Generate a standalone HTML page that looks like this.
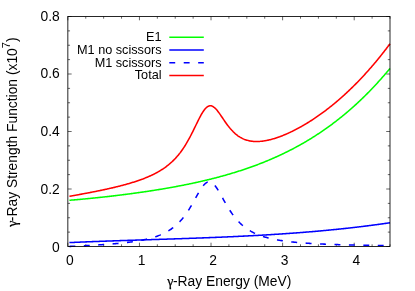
<!DOCTYPE html>
<html><head><meta charset="utf-8"><style>html,body{margin:0;padding:0;background:#fff}svg{display:block;will-change:transform}text{font-family:"Liberation Sans",sans-serif;font-size:13.83px;fill:#000}.l{font-size:12.7px}.g{font-family:"Liberation Serif",serif}</style></head><body>
<svg width="415" height="291" viewBox="0 0 415 291">
<rect width="415" height="291" fill="#fff"/>
<path d="M67.85 246.50v-3.80 M67.85 16.50v3.80 M85.75 246.50v-2.20 M85.75 16.50v2.20 M103.64 246.50v-2.20 M103.64 16.50v2.20 M121.54 246.50v-2.20 M121.54 16.50v2.20 M139.44 246.50v-3.80 M139.44 16.50v3.80 M157.34 246.50v-2.20 M157.34 16.50v2.20 M175.23 246.50v-2.20 M175.23 16.50v2.20 M193.13 246.50v-2.20 M193.13 16.50v2.20 M211.03 246.50v-3.80 M211.03 16.50v3.80 M228.92 246.50v-2.20 M228.92 16.50v2.20 M246.82 246.50v-2.20 M246.82 16.50v2.20 M264.72 246.50v-2.20 M264.72 16.50v2.20 M282.62 246.50v-3.80 M282.62 16.50v3.80 M300.51 246.50v-2.20 M300.51 16.50v2.20 M318.41 246.50v-2.20 M318.41 16.50v2.20 M336.31 246.50v-2.20 M336.31 16.50v2.20 M354.21 246.50v-3.80 M354.21 16.50v3.80 M372.10 246.50v-2.20 M372.10 16.50v2.20 M390.00 246.50v-2.20 M390.00 16.50v2.20 M67.85 246.50h3.80 M390.00 246.50h-3.80 M67.85 232.12h2.20 M390.00 232.12h-2.20 M67.85 217.75h2.20 M390.00 217.75h-2.20 M67.85 203.38h2.20 M390.00 203.38h-2.20 M67.85 189.00h3.80 M390.00 189.00h-3.80 M67.85 174.62h2.20 M390.00 174.62h-2.20 M67.85 160.25h2.20 M390.00 160.25h-2.20 M67.85 145.88h2.20 M390.00 145.88h-2.20 M67.85 131.50h3.80 M390.00 131.50h-3.80 M67.85 117.12h2.20 M390.00 117.12h-2.20 M67.85 102.75h2.20 M390.00 102.75h-2.20 M67.85 88.38h2.20 M390.00 88.38h-2.20 M67.85 74.00h3.80 M390.00 74.00h-3.80 M67.85 59.62h2.20 M390.00 59.62h-2.20 M67.85 45.25h2.20 M390.00 45.25h-2.20 M67.85 30.88h2.20 M390.00 30.88h-2.20 M67.85 16.50h3.80 M390.00 16.50h-3.80" stroke="#000" stroke-width="0.6" fill="none"/>
<g fill="none" stroke-width="1.55" stroke-linejoin="round">
<path d="M69.42 200.28 L70.14 200.22 L70.85 200.16 L71.56 200.10 L72.27 200.04 L72.99 199.98 L73.70 199.92 L74.41 199.86 L75.12 199.80 L75.84 199.74 L76.55 199.68 L77.26 199.61 L77.97 199.55 L78.69 199.49 L79.40 199.42 L80.11 199.36 L80.82 199.30 L81.54 199.23 L82.25 199.16 L82.96 199.10 L83.67 199.03 L84.39 198.97 L85.10 198.90 L85.81 198.83 L86.52 198.76 L87.23 198.69 L87.95 198.63 L88.66 198.56 L89.37 198.49 L90.08 198.42 L90.80 198.35 L91.51 198.27 L92.22 198.20 L92.93 198.13 L93.65 198.06 L94.36 197.99 L95.07 197.91 L95.78 197.84 L96.50 197.77 L97.21 197.69 L97.92 197.62 L98.63 197.54 L99.35 197.47 L100.06 197.39 L100.77 197.31 L101.48 197.24 L102.19 197.16 L102.91 197.08 L103.62 197.00 L104.33 196.93 L105.04 196.85 L105.76 196.77 L106.47 196.69 L107.18 196.61 L107.89 196.53 L108.61 196.45 L109.32 196.36 L110.03 196.28 L110.74 196.20 L111.46 196.12 L112.17 196.03 L112.88 195.95 L113.59 195.87 L114.31 195.78 L115.02 195.70 L115.73 195.61 L116.44 195.53 L117.16 195.44 L117.87 195.35 L118.58 195.27 L119.29 195.18 L120.00 195.09 L120.72 195.00 L121.43 194.91 L122.14 194.82 L122.85 194.73 L123.57 194.64 L124.28 194.55 L124.99 194.46 L125.70 194.37 L126.42 194.28 L127.13 194.19 L127.84 194.09 L128.55 194.00 L129.27 193.91 L129.98 193.81 L130.69 193.72 L131.40 193.62 L132.12 193.53 L132.83 193.43 L133.54 193.33 L134.25 193.24 L134.96 193.14 L135.68 193.04 L136.39 192.94 L137.10 192.84 L137.81 192.74 L138.53 192.64 L139.24 192.54 L139.95 192.44 L140.66 192.34 L141.38 192.24 L142.09 192.13 L142.80 192.03 L143.51 191.93 L144.23 191.82 L144.94 191.72 L145.65 191.61 L146.36 191.51 L147.08 191.40 L147.79 191.29 L148.50 191.18 L149.21 191.08 L149.92 190.97 L150.64 190.86 L151.35 190.75 L152.06 190.64 L152.77 190.53 L153.49 190.42 L154.20 190.30 L154.91 190.19 L155.62 190.08 L156.34 189.96 L157.05 189.85 L157.76 189.73 L158.47 189.62 L159.19 189.50 L159.90 189.38 L160.61 189.27 L161.32 189.15 L162.04 189.03 L162.75 188.91 L163.46 188.79 L164.17 188.67 L164.89 188.55 L165.60 188.43 L166.31 188.30 L167.02 188.18 L167.73 188.06 L168.45 187.93 L169.16 187.80 L169.87 187.68 L170.58 187.55 L171.30 187.42 L172.01 187.30 L172.72 187.17 L173.43 187.04 L174.15 186.91 L174.86 186.78 L175.57 186.64 L176.28 186.51 L177.00 186.38 L177.71 186.24 L178.42 186.11 L179.13 185.97 L179.85 185.84 L180.56 185.70 L181.27 185.56 L181.98 185.42 L182.69 185.28 L183.41 185.14 L184.12 185.00 L184.83 184.86 L185.54 184.72 L186.26 184.57 L186.97 184.43 L187.68 184.28 L188.39 184.14 L189.11 183.99 L189.82 183.84 L190.53 183.69 L191.24 183.54 L191.96 183.39 L192.67 183.24 L193.38 183.09 L194.09 182.94 L194.81 182.78 L195.52 182.63 L196.23 182.47 L196.94 182.31 L197.65 182.16 L198.37 182.00 L199.08 181.84 L199.79 181.68 L200.50 181.51 L201.22 181.35 L201.93 181.19 L202.64 181.02 L203.35 180.86 L204.07 180.69 L204.78 180.52 L205.49 180.36 L206.20 180.19 L206.92 180.01 L207.63 179.84 L208.34 179.67 L209.05 179.50 L209.77 179.32 L210.48 179.14 L211.19 178.97 L211.90 178.79 L212.62 178.61 L213.33 178.43 L214.04 178.25 L214.75 178.06 L215.46 177.88 L216.18 177.70 L216.89 177.51 L217.60 177.32 L218.31 177.13 L219.03 176.94 L219.74 176.75 L220.45 176.56 L221.16 176.37 L221.88 176.17 L222.59 175.98 L223.30 175.78 L224.01 175.58 L224.73 175.38 L225.44 175.18 L226.15 174.98 L226.86 174.77 L227.58 174.57 L228.29 174.36 L229.00 174.16 L229.71 173.95 L230.42 173.74 L231.14 173.53 L231.85 173.31 L232.56 173.10 L233.27 172.88 L233.99 172.67 L234.70 172.45 L235.41 172.23 L236.12 172.01 L236.84 171.78 L237.55 171.56 L238.26 171.33 L238.97 171.11 L239.69 170.88 L240.40 170.65 L241.11 170.42 L241.82 170.18 L242.54 169.95 L243.25 169.71 L243.96 169.48 L244.67 169.24 L245.39 169.00 L246.10 168.75 L246.81 168.51 L247.52 168.27 L248.23 168.02 L248.95 167.77 L249.66 167.52 L250.37 167.27 L251.08 167.01 L251.80 166.76 L252.51 166.50 L253.22 166.24 L253.93 165.98 L254.65 165.72 L255.36 165.46 L256.07 165.19 L256.78 164.93 L257.50 164.66 L258.21 164.39 L258.92 164.11 L259.63 163.84 L260.35 163.56 L261.06 163.29 L261.77 163.01 L262.48 162.72 L263.19 162.44 L263.91 162.16 L264.62 161.87 L265.33 161.58 L266.04 161.29 L266.76 161.00 L267.47 160.70 L268.18 160.40 L268.89 160.11 L269.61 159.81 L270.32 159.50 L271.03 159.20 L271.74 158.89 L272.46 158.58 L273.17 158.27 L273.88 157.96 L274.59 157.64 L275.31 157.33 L276.02 157.01 L276.73 156.69 L277.44 156.37 L278.15 156.04 L278.87 155.71 L279.58 155.38 L280.29 155.05 L281.00 154.72 L281.72 154.38 L282.43 154.04 L283.14 153.70 L283.85 153.36 L284.57 153.02 L285.28 152.67 L285.99 152.32 L286.70 151.97 L287.42 151.61 L288.13 151.26 L288.84 150.90 L289.55 150.54 L290.27 150.17 L290.98 149.81 L291.69 149.44 L292.40 149.07 L293.12 148.70 L293.83 148.32 L294.54 147.94 L295.25 147.56 L295.96 147.18 L296.68 146.79 L297.39 146.41 L298.10 146.02 L298.81 145.62 L299.53 145.23 L300.24 144.83 L300.95 144.43 L301.66 144.03 L302.38 143.62 L303.09 143.21 L303.80 142.80 L304.51 142.39 L305.23 141.97 L305.94 141.55 L306.65 141.13 L307.36 140.70 L308.08 140.28 L308.79 139.85 L309.50 139.41 L310.21 138.98 L310.92 138.54 L311.64 138.10 L312.35 137.66 L313.06 137.21 L313.77 136.76 L314.49 136.31 L315.20 135.85 L315.91 135.39 L316.62 134.93 L317.34 134.47 L318.05 134.00 L318.76 133.53 L319.47 133.06 L320.19 132.58 L320.90 132.10 L321.61 131.62 L322.32 131.13 L323.04 130.64 L323.75 130.15 L324.46 129.66 L325.17 129.16 L325.88 128.66 L326.60 128.16 L327.31 127.65 L328.02 127.14 L328.73 126.62 L329.45 126.11 L330.16 125.59 L330.87 125.06 L331.58 124.54 L332.30 124.01 L333.01 123.47 L333.72 122.94 L334.43 122.40 L335.15 121.85 L335.86 121.31 L336.57 120.76 L337.28 120.20 L338.00 119.65 L338.71 119.09 L339.42 118.52 L340.13 117.96 L340.85 117.38 L341.56 116.81 L342.27 116.23 L342.98 115.65 L343.69 115.07 L344.41 114.48 L345.12 113.88 L345.83 113.29 L346.54 112.69 L347.26 112.08 L347.97 111.48 L348.68 110.87 L349.39 110.25 L350.11 109.63 L350.82 109.01 L351.53 108.39 L352.24 107.76 L352.96 107.12 L353.67 106.49 L354.38 105.84 L355.09 105.20 L355.81 104.55 L356.52 103.90 L357.23 103.24 L357.94 102.58 L358.65 101.91 L359.37 101.25 L360.08 100.57 L360.79 99.90 L361.50 99.22 L362.22 98.53 L362.93 97.84 L363.64 97.15 L364.35 96.45 L365.07 95.75 L365.78 95.04 L366.49 94.33 L367.20 93.62 L367.92 92.90 L368.63 92.18 L369.34 91.45 L370.05 90.72 L370.77 89.98 L371.48 89.24 L372.19 88.50 L372.90 87.75 L373.62 87.00 L374.33 86.24 L375.04 85.48 L375.75 84.71 L376.46 83.94 L377.18 83.17 L377.89 82.39 L378.60 81.60 L379.31 80.81 L380.03 80.02 L380.74 79.22 L381.45 78.42 L382.16 77.61 L382.88 76.80 L383.59 75.98 L384.30 75.16 L385.01 74.33 L385.73 73.50 L386.44 72.67 L387.15 71.82 L387.86 70.98 L388.58 70.13 L389.29 69.27 L390.00 68.41" stroke="#00ff00"/>
<path d="M69.42 242.58 L70.14 242.55 L70.85 242.52 L71.56 242.49 L72.27 242.46 L72.99 242.43 L73.70 242.40 L74.41 242.36 L75.12 242.33 L75.84 242.30 L76.55 242.27 L77.26 242.24 L77.97 242.21 L78.69 242.18 L79.40 242.15 L80.11 242.12 L80.82 242.09 L81.54 242.06 L82.25 242.03 L82.96 242.01 L83.67 241.98 L84.39 241.95 L85.10 241.92 L85.81 241.89 L86.52 241.86 L87.23 241.83 L87.95 241.81 L88.66 241.78 L89.37 241.75 L90.08 241.72 L90.80 241.69 L91.51 241.67 L92.22 241.64 L92.93 241.61 L93.65 241.58 L94.36 241.56 L95.07 241.53 L95.78 241.50 L96.50 241.48 L97.21 241.45 L97.92 241.42 L98.63 241.40 L99.35 241.37 L100.06 241.34 L100.77 241.32 L101.48 241.29 L102.19 241.27 L102.91 241.24 L103.62 241.21 L104.33 241.19 L105.04 241.16 L105.76 241.14 L106.47 241.11 L107.18 241.09 L107.89 241.06 L108.61 241.04 L109.32 241.01 L110.03 240.99 L110.74 240.96 L111.46 240.94 L112.17 240.91 L112.88 240.89 L113.59 240.86 L114.31 240.84 L115.02 240.81 L115.73 240.79 L116.44 240.77 L117.16 240.74 L117.87 240.72 L118.58 240.69 L119.29 240.67 L120.00 240.64 L120.72 240.62 L121.43 240.60 L122.14 240.57 L122.85 240.55 L123.57 240.53 L124.28 240.50 L124.99 240.48 L125.70 240.45 L126.42 240.43 L127.13 240.41 L127.84 240.38 L128.55 240.36 L129.27 240.34 L129.98 240.31 L130.69 240.29 L131.40 240.27 L132.12 240.24 L132.83 240.22 L133.54 240.20 L134.25 240.17 L134.96 240.15 L135.68 240.13 L136.39 240.11 L137.10 240.08 L137.81 240.06 L138.53 240.04 L139.24 240.01 L139.95 239.99 L140.66 239.97 L141.38 239.95 L142.09 239.92 L142.80 239.90 L143.51 239.88 L144.23 239.85 L144.94 239.83 L145.65 239.81 L146.36 239.79 L147.08 239.76 L147.79 239.74 L148.50 239.72 L149.21 239.69 L149.92 239.67 L150.64 239.65 L151.35 239.63 L152.06 239.60 L152.77 239.58 L153.49 239.56 L154.20 239.54 L154.91 239.51 L155.62 239.49 L156.34 239.47 L157.05 239.44 L157.76 239.42 L158.47 239.40 L159.19 239.38 L159.90 239.35 L160.61 239.33 L161.32 239.31 L162.04 239.28 L162.75 239.26 L163.46 239.24 L164.17 239.21 L164.89 239.19 L165.60 239.17 L166.31 239.15 L167.02 239.12 L167.73 239.10 L168.45 239.08 L169.16 239.05 L169.87 239.03 L170.58 239.01 L171.30 238.98 L172.01 238.96 L172.72 238.94 L173.43 238.91 L174.15 238.89 L174.86 238.86 L175.57 238.84 L176.28 238.82 L177.00 238.79 L177.71 238.77 L178.42 238.75 L179.13 238.72 L179.85 238.70 L180.56 238.67 L181.27 238.65 L181.98 238.63 L182.69 238.60 L183.41 238.58 L184.12 238.55 L184.83 238.53 L185.54 238.50 L186.26 238.48 L186.97 238.45 L187.68 238.43 L188.39 238.40 L189.11 238.38 L189.82 238.35 L190.53 238.33 L191.24 238.30 L191.96 238.28 L192.67 238.25 L193.38 238.23 L194.09 238.20 L194.81 238.18 L195.52 238.15 L196.23 238.12 L196.94 238.10 L197.65 238.07 L198.37 238.05 L199.08 238.02 L199.79 237.99 L200.50 237.97 L201.22 237.94 L201.93 237.91 L202.64 237.89 L203.35 237.86 L204.07 237.83 L204.78 237.81 L205.49 237.78 L206.20 237.75 L206.92 237.73 L207.63 237.70 L208.34 237.67 L209.05 237.64 L209.77 237.61 L210.48 237.59 L211.19 237.56 L211.90 237.53 L212.62 237.50 L213.33 237.47 L214.04 237.44 L214.75 237.42 L215.46 237.39 L216.18 237.36 L216.89 237.33 L217.60 237.30 L218.31 237.27 L219.03 237.24 L219.74 237.21 L220.45 237.18 L221.16 237.15 L221.88 237.12 L222.59 237.09 L223.30 237.06 L224.01 237.03 L224.73 237.00 L225.44 236.97 L226.15 236.94 L226.86 236.91 L227.58 236.87 L228.29 236.84 L229.00 236.81 L229.71 236.78 L230.42 236.75 L231.14 236.72 L231.85 236.68 L232.56 236.65 L233.27 236.62 L233.99 236.59 L234.70 236.55 L235.41 236.52 L236.12 236.49 L236.84 236.45 L237.55 236.42 L238.26 236.38 L238.97 236.35 L239.69 236.32 L240.40 236.28 L241.11 236.25 L241.82 236.21 L242.54 236.18 L243.25 236.14 L243.96 236.11 L244.67 236.07 L245.39 236.04 L246.10 236.00 L246.81 235.96 L247.52 235.93 L248.23 235.89 L248.95 235.85 L249.66 235.82 L250.37 235.78 L251.08 235.74 L251.80 235.71 L252.51 235.67 L253.22 235.63 L253.93 235.59 L254.65 235.55 L255.36 235.51 L256.07 235.48 L256.78 235.44 L257.50 235.40 L258.21 235.36 L258.92 235.32 L259.63 235.28 L260.35 235.24 L261.06 235.20 L261.77 235.16 L262.48 235.12 L263.19 235.08 L263.91 235.03 L264.62 234.99 L265.33 234.95 L266.04 234.91 L266.76 234.87 L267.47 234.82 L268.18 234.78 L268.89 234.74 L269.61 234.70 L270.32 234.65 L271.03 234.61 L271.74 234.57 L272.46 234.52 L273.17 234.48 L273.88 234.43 L274.59 234.39 L275.31 234.34 L276.02 234.30 L276.73 234.25 L277.44 234.21 L278.15 234.16 L278.87 234.11 L279.58 234.07 L280.29 234.02 L281.00 233.97 L281.72 233.92 L282.43 233.88 L283.14 233.83 L283.85 233.78 L284.57 233.73 L285.28 233.68 L285.99 233.63 L286.70 233.58 L287.42 233.53 L288.13 233.48 L288.84 233.43 L289.55 233.38 L290.27 233.33 L290.98 233.28 L291.69 233.23 L292.40 233.18 L293.12 233.13 L293.83 233.08 L294.54 233.02 L295.25 232.97 L295.96 232.92 L296.68 232.86 L297.39 232.81 L298.10 232.76 L298.81 232.70 L299.53 232.65 L300.24 232.59 L300.95 232.54 L301.66 232.48 L302.38 232.43 L303.09 232.37 L303.80 232.31 L304.51 232.26 L305.23 232.20 L305.94 232.14 L306.65 232.08 L307.36 232.03 L308.08 231.97 L308.79 231.91 L309.50 231.85 L310.21 231.79 L310.92 231.73 L311.64 231.67 L312.35 231.61 L313.06 231.55 L313.77 231.49 L314.49 231.43 L315.20 231.37 L315.91 231.30 L316.62 231.24 L317.34 231.18 L318.05 231.12 L318.76 231.05 L319.47 230.99 L320.19 230.93 L320.90 230.86 L321.61 230.80 L322.32 230.73 L323.04 230.67 L323.75 230.60 L324.46 230.53 L325.17 230.47 L325.88 230.40 L326.60 230.33 L327.31 230.27 L328.02 230.20 L328.73 230.13 L329.45 230.06 L330.16 229.99 L330.87 229.92 L331.58 229.85 L332.30 229.78 L333.01 229.71 L333.72 229.64 L334.43 229.57 L335.15 229.50 L335.86 229.43 L336.57 229.36 L337.28 229.28 L338.00 229.21 L338.71 229.14 L339.42 229.06 L340.13 228.99 L340.85 228.91 L341.56 228.84 L342.27 228.76 L342.98 228.69 L343.69 228.61 L344.41 228.53 L345.12 228.46 L345.83 228.38 L346.54 228.30 L347.26 228.22 L347.97 228.15 L348.68 228.07 L349.39 227.99 L350.11 227.91 L350.82 227.83 L351.53 227.75 L352.24 227.67 L352.96 227.59 L353.67 227.50 L354.38 227.42 L355.09 227.34 L355.81 227.26 L356.52 227.17 L357.23 227.09 L357.94 227.00 L358.65 226.92 L359.37 226.83 L360.08 226.75 L360.79 226.66 L361.50 226.58 L362.22 226.49 L362.93 226.40 L363.64 226.31 L364.35 226.23 L365.07 226.14 L365.78 226.05 L366.49 225.96 L367.20 225.87 L367.92 225.78 L368.63 225.69 L369.34 225.60 L370.05 225.51 L370.77 225.41 L371.48 225.32 L372.19 225.23 L372.90 225.13 L373.62 225.04 L374.33 224.95 L375.04 224.85 L375.75 224.76 L376.46 224.66 L377.18 224.56 L377.89 224.47 L378.60 224.37 L379.31 224.27 L380.03 224.17 L380.74 224.08 L381.45 223.98 L382.16 223.88 L382.88 223.78 L383.59 223.68 L384.30 223.58 L385.01 223.48 L385.73 223.37 L386.44 223.27 L387.15 223.17 L387.86 223.07 L388.58 222.96 L389.29 222.86 L390.00 222.75" stroke="#0000ff"/>
<path d="M69.42 246.42 L70.14 246.39 L70.85 246.36 L71.56 246.32 L72.27 246.29 L72.99 246.25 L73.70 246.22 L74.41 246.18 L75.12 246.15 L75.84 246.11 L76.55 246.08 L77.26 246.04 L77.97 246.01 L78.69 245.97 L79.40 245.94 L80.11 245.90 L80.82 245.87 L81.54 245.83 L82.25 245.79 L82.96 245.76 L83.67 245.72 L84.39 245.68 L85.10 245.65 L85.81 245.61 L86.52 245.57 L87.23 245.53 L87.95 245.50 L88.66 245.46 L89.37 245.42 L90.08 245.38 L90.80 245.34 L91.51 245.30 L92.22 245.26 L92.93 245.22 L93.65 245.18 L94.36 245.14 L95.07 245.10 L95.78 245.05 L96.50 245.01 L97.21 244.97 L97.92 244.92 L98.63 244.88 L99.35 244.84 L100.06 244.79 L100.77 244.74 L101.48 244.70 L102.19 244.65 L102.91 244.60 L103.62 244.56 L104.33 244.51 L105.04 244.46 L105.76 244.41 L106.47 244.36 L107.18 244.31 L107.89 244.25 L108.61 244.20 L109.32 244.15 L110.03 244.09 L110.74 244.04 L111.46 243.98 L112.17 243.92 L112.88 243.86 L113.59 243.81 L114.31 243.75 L115.02 243.68 L115.73 243.62 L116.44 243.56 L117.16 243.49 L117.87 243.43 L118.58 243.36 L119.29 243.29 L120.00 243.22 L120.72 243.15 L121.43 243.08 L122.14 243.01 L122.85 242.93 L123.57 242.86 L124.28 242.78 L124.99 242.70 L125.70 242.62 L126.42 242.54 L127.13 242.45 L127.84 242.37 L128.55 242.28 L129.27 242.19 L129.98 242.10 L130.69 242.00 L131.40 241.91 L132.12 241.81 L132.83 241.71 L133.54 241.60 L134.25 241.50 L134.96 241.39 L135.68 241.28 L136.39 241.17 L137.10 241.05 L137.81 240.93 L138.53 240.81 L139.24 240.69 L139.95 240.56 L140.66 240.43 L141.38 240.30 L142.09 240.16 L142.80 240.02 L143.51 239.87 L144.23 239.72 L144.94 239.57 L145.65 239.41 L146.36 239.25 L147.08 239.08 L147.79 238.91 L148.50 238.74 L149.21 238.56 L149.92 238.37 L150.64 238.18 L151.35 237.98 L152.06 237.78 L152.77 237.57 L153.49 237.36 L154.20 237.14 L154.91 236.91 L155.62 236.67 L156.34 236.43 L157.05 236.18 L157.76 235.92 L158.47 235.65 L159.19 235.38 L159.90 235.10 L160.61 234.80 L161.32 234.50 L162.04 234.19 L162.75 233.86 L163.46 233.53 L164.17 233.18 L164.89 232.83 L165.60 232.46 L166.31 232.08 L167.02 231.68 L167.73 231.27 L168.45 230.85 L169.16 230.41 L169.87 229.95 L170.58 229.48 L171.30 229.00 L172.01 228.49 L172.72 227.97 L173.43 227.43 L174.15 226.86 L174.86 226.28 L175.57 225.68 L176.28 225.05 L177.00 224.41 L177.71 223.74 L178.42 223.04 L179.13 222.32 L179.85 221.57 L180.56 220.80 L181.27 220.00 L181.98 219.18 L182.69 218.32 L183.41 217.44 L184.12 216.52 L184.83 215.58 L185.54 214.61 L186.26 213.61 L186.97 212.57 L187.68 211.51 L188.39 210.42 L189.11 209.30 L189.82 208.15 L190.53 206.97 L191.24 205.78 L191.96 204.55 L192.67 203.31 L193.38 202.05 L194.09 200.78 L194.81 199.50 L195.52 198.21 L196.23 196.93 L196.94 195.64 L197.65 194.37 L198.37 193.12 L199.08 191.90 L199.79 190.70 L200.50 189.55 L201.22 188.44 L201.93 187.40 L202.64 186.42 L203.35 185.51 L204.07 184.69 L204.78 183.96 L205.49 183.33 L206.20 182.80 L206.92 182.37 L207.63 182.07 L208.34 181.88 L209.05 181.81 L209.77 181.86 L210.48 182.03 L211.19 182.32 L211.90 182.72 L212.62 183.24 L213.33 183.85 L214.04 184.57 L214.75 185.38 L215.46 186.27 L216.18 187.23 L216.89 188.27 L217.60 189.36 L218.31 190.51 L219.03 191.69 L219.74 192.91 L220.45 194.15 L221.16 195.42 L221.88 196.69 L222.59 197.98 L223.30 199.26 L224.01 200.54 L224.73 201.81 L225.44 203.06 L226.15 204.30 L226.86 205.52 L227.58 206.72 L228.29 207.89 L229.00 209.04 L229.71 210.16 L230.42 211.25 L231.14 212.31 L231.85 213.34 L232.56 214.34 L233.27 215.31 L233.99 216.26 L234.70 217.17 L235.41 218.05 L236.12 218.91 L236.84 219.73 L237.55 220.53 L238.26 221.30 L238.97 222.04 L239.69 222.76 L240.40 223.45 L241.11 224.12 L241.82 224.77 L242.54 225.39 L243.25 225.99 L243.96 226.57 L244.67 227.13 L245.39 227.67 L246.10 228.19 L246.81 228.69 L247.52 229.18 L248.23 229.64 L248.95 230.10 L249.66 230.53 L250.37 230.95 L251.08 231.36 L251.80 231.75 L252.51 232.13 L253.22 232.49 L253.93 232.85 L254.65 233.19 L255.36 233.52 L256.07 233.84 L256.78 234.15 L257.50 234.45 L258.21 234.74 L258.92 235.01 L259.63 235.29 L260.35 235.55 L261.06 235.80 L261.77 236.05 L262.48 236.28 L263.19 236.52 L263.91 236.74 L264.62 236.96 L265.33 237.17 L266.04 237.37 L266.76 237.57 L267.47 237.76 L268.18 237.94 L268.89 238.13 L269.61 238.30 L270.32 238.47 L271.03 238.64 L271.74 238.80 L272.46 238.95 L273.17 239.11 L273.88 239.25 L274.59 239.40 L275.31 239.54 L276.02 239.67 L276.73 239.80 L277.44 239.93 L278.15 240.06 L278.87 240.18 L279.58 240.30 L280.29 240.41 L281.00 240.53 L281.72 240.63 L282.43 240.74 L283.14 240.85 L283.85 240.95 L284.57 241.05 L285.28 241.14 L285.99 241.24 L286.70 241.33 L287.42 241.42 L288.13 241.50 L288.84 241.59 L289.55 241.67 L290.27 241.75 L290.98 241.83 L291.69 241.91 L292.40 241.99 L293.12 242.06 L293.83 242.13 L294.54 242.20 L295.25 242.27 L295.96 242.34 L296.68 242.40 L297.39 242.47 L298.10 242.53 L298.81 242.59 L299.53 242.65 L300.24 242.71 L300.95 242.77 L301.66 242.83 L302.38 242.88 L303.09 242.94 L303.80 242.99 L304.51 243.04 L305.23 243.09 L305.94 243.14 L306.65 243.19 L307.36 243.24 L308.08 243.28 L308.79 243.33 L309.50 243.38 L310.21 243.42 L310.92 243.46 L311.64 243.50 L312.35 243.55 L313.06 243.59 L313.77 243.63 L314.49 243.67 L315.20 243.70 L315.91 243.74 L316.62 243.78 L317.34 243.81 L318.05 243.85 L318.76 243.89 L319.47 243.92 L320.19 243.95 L320.90 243.99 L321.61 244.02 L322.32 244.05 L323.04 244.08 L323.75 244.11 L324.46 244.14 L325.17 244.17 L325.88 244.20 L326.60 244.23 L327.31 244.26 L328.02 244.28 L328.73 244.31 L329.45 244.34 L330.16 244.36 L330.87 244.39 L331.58 244.42 L332.30 244.44 L333.01 244.46 L333.72 244.49 L334.43 244.51 L335.15 244.54 L335.86 244.56 L336.57 244.58 L337.28 244.60 L338.00 244.62 L338.71 244.65 L339.42 244.67 L340.13 244.69 L340.85 244.71 L341.56 244.73 L342.27 244.75 L342.98 244.77 L343.69 244.79 L344.41 244.81 L345.12 244.82 L345.83 244.84 L346.54 244.86 L347.26 244.88 L347.97 244.90 L348.68 244.91 L349.39 244.93 L350.11 244.95 L350.82 244.96 L351.53 244.98 L352.24 245.00 L352.96 245.01 L353.67 245.03 L354.38 245.04 L355.09 245.06 L355.81 245.07 L356.52 245.09 L357.23 245.10 L357.94 245.11 L358.65 245.13 L359.37 245.14 L360.08 245.16 L360.79 245.17 L361.50 245.18 L362.22 245.20 L362.93 245.21 L363.64 245.22 L364.35 245.23 L365.07 245.25 L365.78 245.26 L366.49 245.27 L367.20 245.28 L367.92 245.29 L368.63 245.31 L369.34 245.32 L370.05 245.33 L370.77 245.34 L371.48 245.35 L372.19 245.36 L372.90 245.37 L373.62 245.38 L374.33 245.39 L375.04 245.40 L375.75 245.41 L376.46 245.42 L377.18 245.43 L377.89 245.44 L378.60 245.45 L379.31 245.46 L380.03 245.47 L380.74 245.48 L381.45 245.49 L382.16 245.50 L382.88 245.51 L383.59 245.52 L384.30 245.52 L385.01 245.53 L385.73 245.54 L386.44 245.55 L387.15 245.56 L387.86 245.57 L388.58 245.57 L389.29 245.58 L390.00 245.59" stroke="#0000ff" stroke-dasharray="5.9 8.53"/>
<path d="M69.42 196.29 L70.14 196.16 L70.85 196.04 L71.56 195.91 L72.27 195.79 L72.99 195.66 L73.70 195.54 L74.41 195.41 L75.12 195.28 L75.84 195.16 L76.55 195.03 L77.26 194.90 L77.97 194.77 L78.69 194.64 L79.40 194.51 L80.11 194.38 L80.82 194.25 L81.54 194.12 L82.25 193.99 L82.96 193.86 L83.67 193.73 L84.39 193.60 L85.10 193.46 L85.81 193.33 L86.52 193.20 L87.23 193.06 L87.95 192.93 L88.66 192.79 L89.37 192.65 L90.08 192.52 L90.80 192.38 L91.51 192.24 L92.22 192.10 L92.93 191.96 L93.65 191.82 L94.36 191.68 L95.07 191.54 L95.78 191.40 L96.50 191.25 L97.21 191.11 L97.92 190.96 L98.63 190.82 L99.35 190.67 L100.06 190.52 L100.77 190.38 L101.48 190.23 L102.19 190.08 L102.91 189.93 L103.62 189.77 L104.33 189.62 L105.04 189.47 L105.76 189.31 L106.47 189.16 L107.18 189.00 L107.89 188.84 L108.61 188.68 L109.32 188.52 L110.03 188.36 L110.74 188.20 L111.46 188.03 L112.17 187.87 L112.88 187.70 L113.59 187.53 L114.31 187.37 L115.02 187.20 L115.73 187.02 L116.44 186.85 L117.16 186.67 L117.87 186.50 L118.58 186.32 L119.29 186.14 L120.00 185.96 L120.72 185.78 L121.43 185.59 L122.14 185.41 L122.85 185.22 L123.57 185.03 L124.28 184.83 L124.99 184.64 L125.70 184.44 L126.42 184.25 L127.13 184.05 L127.84 183.84 L128.55 183.64 L129.27 183.43 L129.98 183.22 L130.69 183.01 L131.40 182.80 L132.12 182.58 L132.83 182.36 L133.54 182.14 L134.25 181.91 L134.96 181.68 L135.68 181.45 L136.39 181.22 L137.10 180.98 L137.81 180.74 L138.53 180.49 L139.24 180.24 L139.95 179.99 L140.66 179.74 L141.38 179.48 L142.09 179.21 L142.80 178.95 L143.51 178.67 L144.23 178.40 L144.94 178.12 L145.65 177.83 L146.36 177.54 L147.08 177.25 L147.79 176.95 L148.50 176.64 L149.21 176.33 L149.92 176.01 L150.64 175.69 L151.35 175.36 L152.06 175.02 L152.77 174.68 L153.49 174.33 L154.20 173.97 L154.91 173.61 L155.62 173.24 L156.34 172.86 L157.05 172.47 L157.76 172.08 L158.47 171.67 L159.19 171.26 L159.90 170.83 L160.61 170.40 L161.32 169.96 L162.04 169.50 L162.75 169.04 L163.46 168.56 L164.17 168.07 L164.89 167.57 L165.60 167.05 L166.31 166.52 L167.02 165.98 L167.73 165.42 L168.45 164.85 L169.16 164.26 L169.87 163.66 L170.58 163.04 L171.30 162.40 L172.01 161.75 L172.72 161.07 L173.43 160.37 L174.15 159.66 L174.86 158.92 L175.57 158.16 L176.28 157.38 L177.00 156.58 L177.71 155.75 L178.42 154.89 L179.13 154.01 L179.85 153.11 L180.56 152.18 L181.27 151.21 L181.98 150.22 L182.69 149.21 L183.41 148.16 L184.12 147.08 L184.83 145.97 L185.54 144.83 L186.26 143.66 L186.97 142.45 L187.68 141.22 L188.39 139.96 L189.11 138.67 L189.82 137.34 L190.53 136.00 L191.24 134.62 L191.96 133.23 L192.67 131.81 L193.38 130.37 L194.09 128.92 L194.81 127.46 L195.52 125.99 L196.23 124.52 L196.94 123.06 L197.65 121.60 L198.37 120.17 L199.08 118.75 L199.79 117.37 L200.50 116.03 L201.22 114.74 L201.93 113.50 L202.64 112.33 L203.35 111.23 L204.07 110.22 L204.78 109.29 L205.49 108.46 L206.20 107.73 L206.92 107.11 L207.63 106.61 L208.34 106.22 L209.05 105.95 L209.77 105.80 L210.48 105.76 L211.19 105.85 L211.90 106.04 L212.62 106.35 L213.33 106.76 L214.04 107.26 L214.75 107.86 L215.46 108.54 L216.18 109.29 L216.89 110.11 L217.60 110.98 L218.31 111.91 L219.03 112.87 L219.74 113.87 L220.45 114.90 L221.16 115.94 L221.88 116.99 L222.59 118.04 L223.30 119.10 L224.01 120.15 L224.73 121.19 L225.44 122.21 L226.15 123.22 L226.86 124.20 L227.58 125.16 L228.29 126.10 L229.00 127.00 L229.71 127.88 L230.42 128.73 L231.14 129.55 L231.85 130.34 L232.56 131.09 L233.27 131.82 L233.99 132.51 L234.70 133.17 L235.41 133.80 L236.12 134.40 L236.84 134.97 L237.55 135.51 L238.26 136.02 L238.97 136.50 L239.69 136.96 L240.40 137.39 L241.11 137.79 L241.82 138.17 L242.54 138.52 L243.25 138.85 L243.96 139.16 L244.67 139.44 L245.39 139.70 L246.10 139.94 L246.81 140.17 L247.52 140.37 L248.23 140.55 L248.95 140.72 L249.66 140.87 L250.37 141.00 L251.08 141.11 L251.80 141.21 L252.51 141.30 L253.22 141.37 L253.93 141.42 L254.65 141.46 L255.36 141.49 L256.07 141.51 L256.78 141.51 L257.50 141.50 L258.21 141.48 L258.92 141.45 L259.63 141.40 L260.35 141.35 L261.06 141.28 L261.77 141.21 L262.48 141.13 L263.19 141.03 L263.91 140.93 L264.62 140.82 L265.33 140.70 L266.04 140.57 L266.76 140.43 L267.47 140.28 L268.18 140.13 L268.89 139.97 L269.61 139.80 L270.32 139.63 L271.03 139.44 L271.74 139.25 L272.46 139.06 L273.17 138.85 L273.88 138.64 L274.59 138.43 L275.31 138.21 L276.02 137.98 L276.73 137.74 L277.44 137.50 L278.15 137.26 L278.87 137.00 L279.58 136.75 L280.29 136.48 L281.00 136.21 L281.72 135.94 L282.43 135.66 L283.14 135.38 L283.85 135.09 L284.57 134.79 L285.28 134.49 L285.99 134.19 L286.70 133.88 L287.42 133.56 L288.13 133.25 L288.84 132.92 L289.55 132.59 L290.27 132.26 L290.98 131.92 L291.69 131.58 L292.40 131.23 L293.12 130.88 L293.83 130.53 L294.54 130.17 L295.25 129.80 L295.96 129.43 L296.68 129.06 L297.39 128.68 L298.10 128.30 L298.81 127.92 L299.53 127.53 L300.24 127.13 L300.95 126.74 L301.66 126.33 L302.38 125.93 L303.09 125.52 L303.80 125.10 L304.51 124.68 L305.23 124.26 L305.94 123.83 L306.65 123.40 L307.36 122.97 L308.08 122.53 L308.79 122.09 L309.50 121.64 L310.21 121.19 L310.92 120.73 L311.64 120.28 L312.35 119.81 L313.06 119.35 L313.77 118.87 L314.49 118.40 L315.20 117.92 L315.91 117.44 L316.62 116.95 L317.34 116.46 L318.05 115.97 L318.76 115.47 L319.47 114.97 L320.19 114.46 L320.90 113.95 L321.61 113.43 L322.32 112.91 L323.04 112.39 L323.75 111.87 L324.46 111.34 L325.17 110.80 L325.88 110.26 L326.60 109.72 L327.31 109.17 L328.02 108.62 L328.73 108.07 L329.45 107.51 L330.16 106.95 L330.87 106.38 L331.58 105.81 L332.30 105.23 L333.01 104.65 L333.72 104.07 L334.43 103.48 L335.15 102.89 L335.86 102.29 L336.57 101.69 L337.28 101.09 L338.00 100.48 L338.71 99.87 L339.42 99.25 L340.13 98.63 L340.85 98.01 L341.56 97.38 L342.27 96.74 L342.98 96.11 L343.69 95.46 L344.41 94.82 L345.12 94.17 L345.83 93.51 L346.54 92.85 L347.26 92.19 L347.97 91.52 L348.68 90.85 L349.39 90.17 L350.11 89.49 L350.82 88.80 L351.53 88.11 L352.24 87.42 L352.96 86.72 L353.67 86.02 L354.38 85.31 L355.09 84.59 L355.81 83.88 L356.52 83.16 L357.23 82.43 L357.94 81.70 L358.65 80.96 L359.37 80.22 L360.08 79.48 L360.79 78.73 L361.50 77.97 L362.22 77.22 L362.93 76.45 L363.64 75.68 L364.35 74.91 L365.07 74.13 L365.78 73.35 L366.49 72.56 L367.20 71.77 L367.92 70.97 L368.63 70.17 L369.34 69.36 L370.05 68.55 L370.77 67.74 L371.48 66.91 L372.19 66.09 L372.90 65.26 L373.62 64.42 L374.33 63.58 L375.04 62.73 L375.75 61.88 L376.46 61.02 L377.18 60.16 L377.89 59.30 L378.60 58.42 L379.31 57.55 L380.03 56.66 L380.74 55.78 L381.45 54.88 L382.16 53.99 L382.88 53.08 L383.59 52.17 L384.30 51.26 L385.01 50.34 L385.73 49.42 L386.44 48.49 L387.15 47.55 L387.86 46.61 L388.58 45.66 L389.29 44.71 L390.00 43.76" stroke="#ff0000"/>
</g>
<rect x="67.85" y="16.50" width="322.15" height="230.00" fill="none" stroke="#000" stroke-width="0.85"/>
<text x="69.95" y="265.10" text-anchor="middle">0</text>
<text x="141.54" y="265.10" text-anchor="middle">1</text>
<text x="213.13" y="265.10" text-anchor="middle">2</text>
<text x="284.72" y="265.10" text-anchor="middle">3</text>
<text x="356.31" y="265.10" text-anchor="middle">4</text>
<text x="59.75" y="251.80" text-anchor="end">0</text>
<text x="59.75" y="193.90" text-anchor="end">0.2</text>
<text x="59.75" y="136.15" text-anchor="end">0.4</text>
<text x="59.75" y="78.40" text-anchor="end">0.6</text>
<text x="59.75" y="20.70" text-anchor="end">0.8</text>
<text class="g" x="167.30" y="286.30" textLength="6.14" lengthAdjust="spacingAndGlyphs" stroke="#000" stroke-width="0.25">γ</text>
<text x="172.98" y="286.3">-Ray Energy (MeV)</text>
<g transform="translate(17.0,226.8) rotate(-90)"><text class="g" x="0.00" y="0.00" textLength="6.14" lengthAdjust="spacingAndGlyphs" stroke="#000" stroke-width="0.25">γ</text><text x="5.68" y="0">-Ray Strength Function (x10<tspan dy="-7" font-size="11.06px">7</tspan><tspan dy="7">)</tspan></text></g>
<text class="l" x="161.6" y="41.20" text-anchor="end">E1</text>
<path d="M169.3 37.30H203.8" stroke="#00ff00" stroke-width="1.55" fill="none"/>
<text class="l" x="161.6" y="53.93" text-anchor="end">M1 no scissors</text>
<path d="M169.3 50.03H203.8" stroke="#0000ff" stroke-width="1.55" fill="none"/>
<text class="l" x="161.6" y="66.66" text-anchor="end">M1 scissors</text>
<path d="M169.3 62.76H203.8" stroke="#0000ff" stroke-width="1.55" fill="none" stroke-dasharray="5.9 8.53"/>
<text class="l" x="161.6" y="79.39" text-anchor="end">Total</text>
<path d="M169.3 75.49H203.8" stroke="#ff0000" stroke-width="1.55" fill="none"/>
</svg></body></html>
